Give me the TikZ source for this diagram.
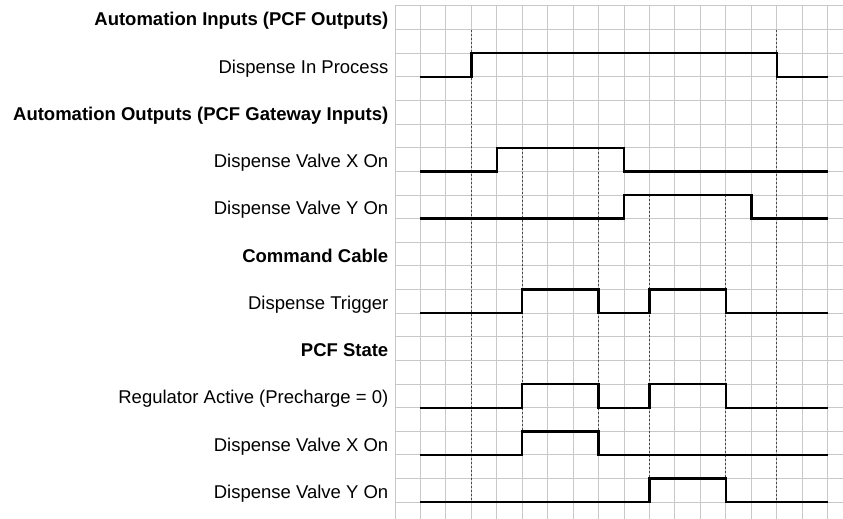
\documentclass[tikz,border=0pt]{standalone}
\usepackage{fontspec}
\setmainfont{Liberation Sans}
\begin{document}
\begin{tikzpicture}[x=1pt,y=-1pt,
  gridline/.style={draw={rgb,255:red,200;green,200;blue,200},line width=1pt},
  sig/.style={draw=black,line width=2.4pt,line join=miter},
  guide/.style={draw={rgb,255:red,70;green,70;blue,70},line width=1pt,dash pattern=on 2pt off 2pt},
  lab/.style={anchor=base east,inner sep=0pt,font=\fontsize{18.5}{22}\selectfont},
  head/.style={lab,font=\fontsize{18.5}{22}\selectfont\bfseries}]
\useasboundingbox (0,0) rectangle (843,519);
\fill[white] (0,0) rectangle (843,519);
% column and row coordinates
\foreach \i in {0,...,17} \coordinate (c\i) at ({395+25.45*\i},0);
\foreach \k in {0,...,21} \coordinate (r\k) at (0,{6+23.63*\k});
% grid
\foreach \i in {0,...,17} \draw[gridline] (c\i|-r0) -- ({395+25.45*\i},519);
\foreach \k in {0,...,21} \draw[gridline] (395,{6+23.63*\k}) -- (843,{6+23.63*\k});
% dotted guide lines
\draw[guide] (c3|-r1) -- (c3|-r21);
\draw[guide] (c15|-r1) -- (c15|-r21);
\draw[guide] (c5|-r6) -- (c5|-r19);
\draw[guide] (c8|-r6) -- (c8|-r19);
\draw[guide] (c10|-r8) -- (c10|-r21);
\draw[guide] (c13|-r8) -- (c13|-r21);
% labels
\node[head] (h1) at (388.5,{6+23.63*0.5+8}) {Automation Inputs (PCF Outputs)};
\node[lab]  (s1) at (388.5,{6+23.63*2.5+8}) {Dispense In Process};
\node[head] (h2) at (388.5,{6+23.63*4.5+8}) {Automation Outputs (PCF Gateway Inputs)};
\node[lab]  (s2) at (388.5,{6+23.63*6.5+8}) {Dispense Valve X On};
\node[lab]  (s3) at (388.5,{6+23.63*8.5+8}) {Dispense Valve Y On};
\node[head] (h3) at (388.5,{6+23.63*10.5+8}) {Command Cable};
\node[lab]  (s4) at (388.5,{6+23.63*12.5+8}) {Dispense Trigger};
\node[head] (h4) at (388.5,{6+23.63*14.5+8}) {PCF State};
\node[lab]  (s5) at (388.5,{6+23.63*16.5+8}) {Regulator Active (Precharge = 0)};
\node[lab]  (s6) at (388.5,{6+23.63*18.5+8}) {Dispense Valve X On};
\node[lab]  (s7) at (388.5,{6+23.63*20.5+8}) {Dispense Valve Y On};
% signals
\draw[sig] (c1|-r3) -- (c3|-r3) -- (c3|-r2) -- (c15|-r2) -- (c15|-r3) -- (c17|-r3);
\draw[sig] (c1|-r7) -- (c4|-r7) -- (c4|-r6) -- (c9|-r6) -- (c9|-r7) -- (c17|-r7);
\draw[sig] (c1|-r9) -- (c9|-r9) -- (c9|-r8) -- (c14|-r8) -- (c14|-r9) -- (c17|-r9);
\draw[sig] (c1|-r13) -- (c5|-r13) -- (c5|-r12) -- (c8|-r12) -- (c8|-r13) -- (c10|-r13) -- (c10|-r12) -- (c13|-r12) -- (c13|-r13) -- (c17|-r13);
\draw[sig] (c1|-r17) -- (c5|-r17) -- (c5|-r16) -- (c8|-r16) -- (c8|-r17) -- (c10|-r17) -- (c10|-r16) -- (c13|-r16) -- (c13|-r17) -- (c17|-r17);
\draw[sig] (c1|-r19) -- (c5|-r19) -- (c5|-r18) -- (c8|-r18) -- (c8|-r19) -- (c17|-r19);
\draw[sig] (c1|-r21) -- (c10|-r21) -- (c10|-r20) -- (c13|-r20) -- (c13|-r21) -- (c17|-r21);
\end{tikzpicture}
\end{document}
